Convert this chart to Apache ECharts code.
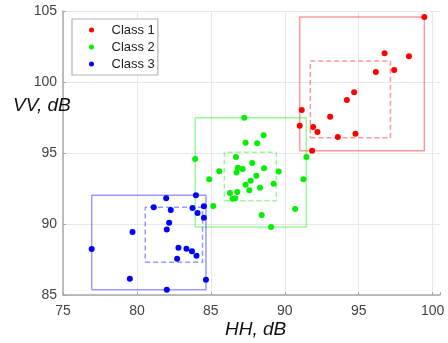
<!DOCTYPE html>
<html>
<head>
<meta charset="utf-8">
<script src="https://cdn.jsdelivr.net/npm/echarts@6/dist/echarts.min.js"></script>
<style>html,body{margin:0;padding:0;background:#fff}#c{width:448px;height:343px}</style>
</head>
<body>
<div id="c"></div>
<script>
var classNames = ['Class 1', 'Class 2', 'Class 3'];
var classColors = ['#ff0000', '#00f000', '#0000ff'];
var boxColors = ['rgba(255,0,0,0.4)', 'rgba(0,240,0,0.4)', 'rgba(0,0,255,0.4)'];

var class1 = [[99.44,104.58],[96.75,102.02],[98.40,101.81],[96.16,100.70],[97.40,100.85],[94.69,99.27],[94.20,98.73],[93.07,97.56],[91.15,98.03],[91.01,96.92],[91.92,96.83],[92.21,96.48],[93.59,96.13],[94.78,96.36],[91.85,95.16]];
var class2 = [[87.26,97.49],[88.57,96.25],[87.35,95.73],[88.14,95.68],[83.94,94.58],[86.70,94.72],[87.80,94.30],[85.57,93.71],[86.83,93.97],[87.15,93.87],[88.60,93.92],[89.59,93.69],[86.74,93.62],[88.08,93.40],[84.89,93.15],[87.69,93.05],[87.35,92.77],[89.25,92.84],[88.33,92.56],[87.60,92.37],[86.79,92.25],[86.29,92.18],[86.47,91.78],[86.65,91.81],[91.46,94.72],[91.26,93.15],[85.16,91.27],[90.70,91.06],[88.44,90.63],[89.07,89.79]];
var class3 = [[81.98,91.81],[83.99,92.02],[81.14,91.18],[82.29,90.99],[83.76,91.13],[84.53,91.25],[84.10,90.77],[84.53,90.44],[82.18,90.09],[82.02,89.62],[79.70,89.44],[76.94,88.24],[82.81,88.33],[83.35,88.26],[83.72,88.08],[84.03,87.77],[82.72,87.56],[79.52,86.15],[84.67,86.08],[82.02,85.37]];

// boxes: [xmin, xmax, ymin, ymax]
var solidBoxes = [[91.01,99.44,95.16,104.58],[83.94,91.46,89.79,97.49],[76.94,84.67,85.37,92.02]];
var dashedBoxes = [[91.73,97.15,96.08,101.48],[85.91,89.43,91.64,95.05],[80.56,84.44,87.30,91.18]];

var xTicks = [75, 80, 85, 90, 95, 100];
var yTicks = [85, 90, 95, 100, 105];

function boxPath(b) {
  return [[b[0],b[2]],[b[1],b[2]],[b[1],b[3]],[b[0],b[3]],[b[0],b[2]]];
}

var fontFam = 'Arial, "Liberation Sans", Helvetica, sans-serif';
var series = [];
[class1, class2, class3].forEach(function (d, i) {
  series.push({
    type: 'line', silent: true, symbol: 'none', z: 1,
    data: boxPath(solidBoxes[i]),
    lineStyle: { color: boxColors[i], width: 1.5, type: 'solid' }
  });
  series.push({
    type: 'line', silent: true, symbol: 'none', z: 1,
    data: boxPath(dashedBoxes[i]),
    lineStyle: { color: boxColors[i], width: 1.5, type: [5, 3] }
  });
});
[class1, class2, class3].forEach(function (d, i) {
  series.push({
    name: classNames[i], type: 'scatter', z: 3,
    symbol: 'circle', symbolSize: 6,
    itemStyle: { color: classColors[i], opacity: 1 },
    data: d
  });
});

var axisCol = '#a8a8a8';
var chart = echarts.init(document.getElementById('c'), null, { renderer: 'canvas' });
chart.setOption({
  animation: false,
  backgroundColor: '#fff',
  grid: { left: 63, right: 8, top: 11, bottom: 48 },
  legend: {
    data: classNames,
    left: 72, top: 19,
    orient: 'vertical',
    icon: 'circle',
    itemWidth: 30, itemHeight: 5, itemGap: 3,
    padding: [4, 3, 4, 17],
    borderColor: '#b4b4b4', borderWidth: 1.2,
    backgroundColor: '#fff',
    textStyle: { fontFamily: fontFam, fontSize: 13, color: '#222', lineHeight: 14 }
  },
  xAxis: {
    type: 'value', min: 75, max: 100.5, interval: 5,
    axisLine: { show: true, lineStyle: { color: axisCol, width: 1.5 } },
    axisTick: { show: true, inside: true, length: 3, lineStyle: { color: axisCol } },
    axisLabel: {
      margin: 9, fontFamily: fontFam, fontSize: 14, color: '#444',
      formatter: function (v) { return xTicks.indexOf(v) >= 0 ? String(v) : ''; }
    },
    splitLine: { show: true, showMaxLine: false, lineStyle: { color: '#e8e8e8', width: 1 } }
  },
  yAxis: {
    type: 'value', min: 85, max: 105, interval: 5,
    axisLine: { show: true, lineStyle: { color: axisCol, width: 1.5 } },
    axisTick: { show: true, inside: true, length: 3, lineStyle: { color: axisCol } },
    axisLabel: {
      margin: 6, fontFamily: fontFam, fontSize: 14, color: '#444',
      formatter: function (v) { return yTicks.indexOf(v) >= 0 ? String(v) : ''; }
    },
    splitLine: { show: true, lineStyle: { color: '#e8e8e8', width: 1 } }
  },
  graphic: [
    { type: 'text', left: 13, top: 96, z: 10,
      style: { text: 'VV, dB', font: 'italic 19px ' + fontFam, fill: '#111' } },
    { type: 'text', left: 225, top: 320, z: 10,
      style: { text: 'HH, dB', font: 'italic 19px ' + fontFam, fill: '#111' } }
  ],
  series: series
});
</script>
</body>
</html>
